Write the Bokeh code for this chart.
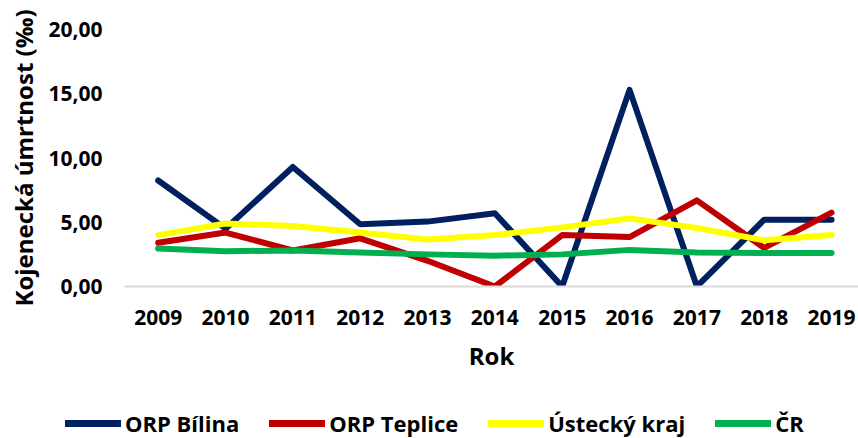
from bokeh.plotting import figure
from bokeh.models import Range1d, FixedTicker, Legend, LegendItem
from bokeh.layouts import column
from bokeh.embed import file_html
from bokeh.resources import INLINE

years = [2009, 2010, 2011, 2012, 2013, 2014, 2015, 2016, 2017, 2018, 2019]
orp_bilina = [8.25, 4.5, 9.3, 4.85, 5.05, 5.7, 0.0, 15.3, 0.0, 5.2, 5.2]
orp_teplice = [3.4, 4.2, 2.8, 3.75, 2.0, 0.0, 4.0, 3.85, 6.7, 3.0, 5.75]
ustecky_kraj = [4.0, 4.9, 4.7, 4.2, 3.65, 4.0, 4.6, 5.3, 4.55, 3.6, 4.0]
cr = [2.95, 2.75, 2.8, 2.65, 2.5, 2.4, 2.5, 2.85, 2.65, 2.6, 2.6]

y_ticks = [0, 5, 10, 15, 20]
y_tick_labels = ["0,00", "5,00", "10,00", "15,00", "20,00"]
series_names = ["ORP Bílina", "ORP Teplice", "Ústecký kraj", "ČR"]
colors = ["#002060", "#C00000", "#FFFF00", "#00B050"]
series = [orp_bilina, orp_teplice, ustecky_kraj, cr]

FONT = "Open Sans"

p = figure(width=858, height=398, output_backend="svg", toolbar_location=None,
           x_range=Range1d(2008.5, 2019.4), y_range=Range1d(0, 20),
           min_border_left=124, min_border_right=0, min_border_top=29,
           min_border_bottom=112)
p.frame_align = False
p.outline_line_color = None
p.background_fill_color = "white"
p.border_fill_color = "white"
p.xgrid.visible = False
p.ygrid.visible = False

# x axis
p.xaxis.ticker = FixedTicker(ticks=years)
p.xaxis.major_label_overrides = {y: str(y) for y in years}
p.xaxis.axis_line_color = "#D9D9D9"
p.xaxis.axis_line_width = 2
p.xaxis.major_tick_line_color = None
p.xaxis.minor_tick_line_color = None
p.xaxis.major_tick_out = 0
p.xaxis.major_label_standoff = 23
p.xaxis.major_label_text_font = FONT
p.xaxis.major_label_text_font_style = "bold"
p.xaxis.major_label_text_font_size = "21px"
p.xaxis.major_label_text_color = "black"
p.xaxis.axis_label = "Rok"
p.xaxis.axis_label_text_font = FONT
p.xaxis.axis_label_text_font_style = "bold"
p.xaxis.axis_label_text_font_size = "24px"
p.xaxis.axis_label_text_color = "black"
p.xaxis.axis_label_standoff = 11

# y axis
p.yaxis.ticker = FixedTicker(ticks=y_ticks)
p.yaxis.major_label_overrides = dict(zip(y_ticks, y_tick_labels))
p.yaxis.axis_line_color = None
p.yaxis.major_tick_line_color = None
p.yaxis.minor_tick_line_color = None
p.yaxis.major_tick_out = 0
p.yaxis.major_label_standoff = 22
p.yaxis.major_label_text_font = FONT
p.yaxis.major_label_text_font_style = "bold"
p.yaxis.major_label_text_font_size = "21px"
p.yaxis.major_label_text_color = "black"
p.yaxis.axis_label = "Kojenecká úmrtnost (‰)"
p.yaxis.axis_label_text_font = FONT
p.yaxis.axis_label_text_font_style = "bold"
p.yaxis.axis_label_text_font_size = "24px"
p.yaxis.axis_label_text_color = "black"
p.yaxis.axis_label_standoff = 5

for vals, col in zip(series, colors):
    p.line(years, vals, line_color=col, line_width=6,
           line_join="round", line_cap="round")

# legend strip below the chart (its own lines lie outside its view range)
pl = figure(width=858, height=40, output_backend="svg", toolbar_location=None,
            x_range=Range1d(0, 1), y_range=Range1d(0, 1),
            min_border_left=0, min_border_right=0, min_border_top=0,
            min_border_bottom=0, x_axis_type=None, y_axis_type=None)
pl.frame_align = False
pl.outline_line_color = None
pl.background_fill_color = "white"
pl.border_fill_color = "white"
pl.xgrid.visible = False
pl.ygrid.visible = False
items = []
for name, vals, col in zip(series_names, series, colors):
    r = pl.line(years, vals, line_color=col, line_width=7, line_cap="round")
    items.append(LegendItem(label=name, renderers=[r]))

legend = Legend(items=items, orientation="horizontal", location=(65, 0),
                glyph_width=56, glyph_height=20, label_height=20,
                label_standoff=4, spacing=30, padding=0, margin=0,
                border_line_color=None, background_fill_alpha=0,
                label_text_font=FONT, label_text_font_style="bold",
                label_text_font_size="22px", label_text_color="black")
pl.add_layout(legend, "center")

layout = column(p, pl, spacing=0)
open("out.html", "w").write(file_html(layout, INLINE))
